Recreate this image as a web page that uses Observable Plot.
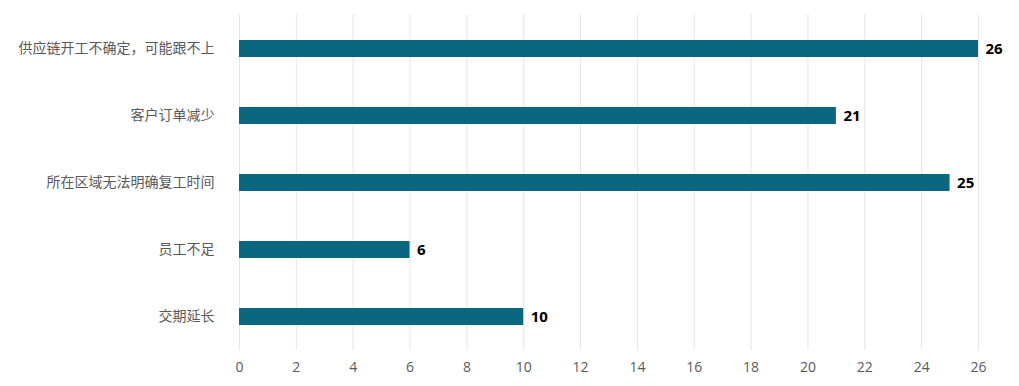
<!DOCTYPE html>
<html>
<head>
<meta charset="utf-8">
<script src="https://cdn.jsdelivr.net/npm/d3@7"></script>
<script src="https://cdn.jsdelivr.net/npm/@observablehq/plot@0.6"></script>
<style>
  html, body { margin: 0; padding: 0; background: #ffffff; }
  #chart { width: 1019px; height: 386px; }
</style>
</head>
<body>
<div id="chart"></div>
<script>
const categories = ["供应链开工不确定，可能跟不上", "客户订单减少", "所在区域无法明确复工时间", "员工不足", "交期延长"];
const values = [26, 21, 25, 6, 10];
const xTicks = [0, 2, 4, 6, 8, 10, 12, 14, 16, 18, 20, 22, 24, 26];

const data = categories.map((c, i) => ({category: c, value: values[i]}));

const chart = Plot.plot({
  width: 1019,
  height: 386,
  marginLeft: 239,
  marginRight: 41,
  marginTop: 14,
  marginBottom: 36,
  style: {fontFamily: "'Open Sans', 'Noto Sans CJK SC', sans-serif", background: "#ffffff"},
  x: {domain: [0, 26]},
  y: {domain: categories, padding: 0},
  marks: [
    Plot.gridX(xTicks, {stroke: "#e4e4ea", strokeOpacity: 1, strokeWidth: 1}),
    Plot.axisX({ticks: xTicks, tickSize: 0, tickPadding: 12, fontSize: 14, color: "#5a5a5a", label: null}),
    Plot.axisY({tickSize: 0, tickPadding: 25, fontSize: 14, color: "#595959", label: null}),
    Plot.barX(data, {x: "value", y: "category", fill: "#0b6680", insetTop: 25, insetBottom: 25}),
    Plot.text(data, {x: "value", y: "category", text: d => String(d.value), dx: 7, textAnchor: "start", fontWeight: "bold", fontSize: 15, fill: "#000000"})
  ]
});
document.getElementById("chart").appendChild(chart);
</script>
</body>
</html>
